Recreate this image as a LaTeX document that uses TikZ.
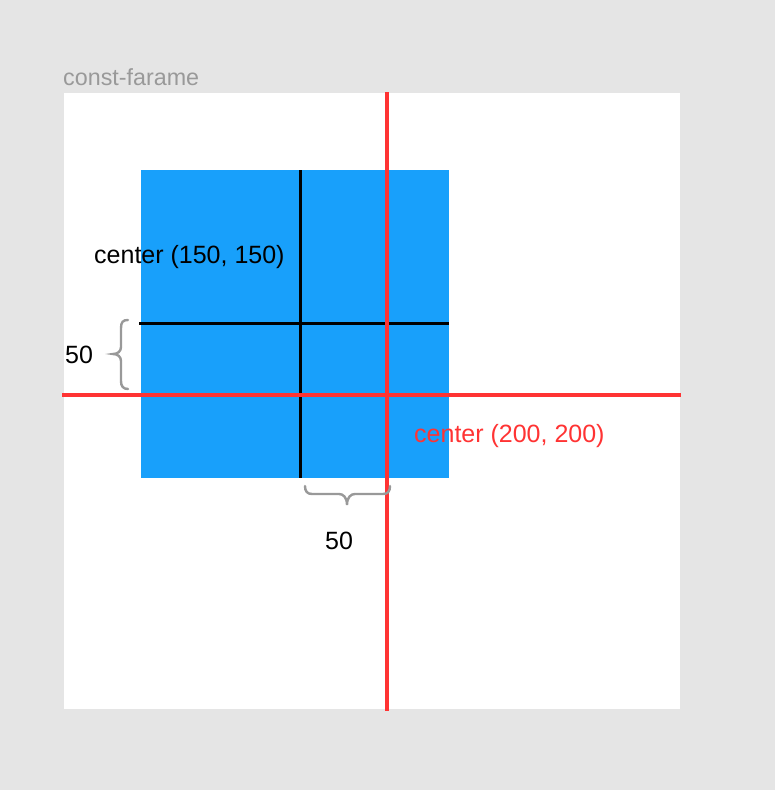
\documentclass[tikz,border=0pt]{standalone}
\usepackage{fontspec}
\setmainfont{Liberation Sans}
\definecolor{bg}{HTML}{E5E5E5}
\definecolor{blueSq}{HTML}{18A0FB}
\definecolor{redL}{HTML}{FF3333}
\definecolor{grayT}{HTML}{999999}
\begin{document}
\begin{tikzpicture}[x=1pt,y=-1pt,
  lbl/.style={inner sep=0pt,anchor=west,font=\fontsize{25}{29}\selectfont},
  redline/.style={draw=redL,line width=3.2pt},
  blackline/.style={draw=black,line width=3pt},
  bracestyle/.style={draw=grayT,line width=2.4pt,line cap=round}]
\fill[bg] (0,0) rectangle (775,790);
\useasboundingbox (0,0) rectangle (775,790);
% frame
\fill[white] (64,93) rectangle (680,709);
\node[lbl,text=grayT,font=\fontsize{23.3}{27}\selectfont] (title) at (63,77) {const-farame};
% blue square
\fill[blueSq] (141,170) rectangle (449,478);
% black axes
\coordinate (bt) at (300,170);
\coordinate (bb) at (300,478);
\coordinate (bl) at (139,323);
\coordinate (br) at (449,323);
\draw[blackline] (bt) -- (bb);
\draw[blackline] (bl) -- (br);
% red axes
\coordinate (rt) at (387,92);
\coordinate (rb) at (387,711);
\coordinate (rl) at (62,395);
\coordinate (rr) at (681,395);
\draw[redline] (rt) -- (rb);
\draw[redline] (rl) -- (rr);
% labels
\node[lbl] (c150) at (94,257) {center (150, 150)};
\node[lbl,text=redL] (c200) at (414,436) {center (200, 200)};
\node[lbl] (fifty1) at (65,355) {50};
\node[lbl] (fifty2) at (325,541) {50};
% braces
\draw[bracestyle] (128,320) .. controls (123,320) and (121,322) .. (121,328) -- (121,347)
  .. controls (121,351) and (118,354) .. (113,354)
  .. controls (118,354) and (121,357) .. (121,361) -- (121,381)
  .. controls (121,386) and (123,389) .. (128,389);
\draw[bracestyle] (305,486) .. controls (305,491) and (307,494) .. (312,494) -- (339,494)
  .. controls (343,494) and (347,497) .. (347,505)
  .. controls (347,497) and (351,494) .. (355,494) -- (383,494)
  .. controls (388,494) and (390,491) .. (390,486);
\end{tikzpicture}
\end{document}
